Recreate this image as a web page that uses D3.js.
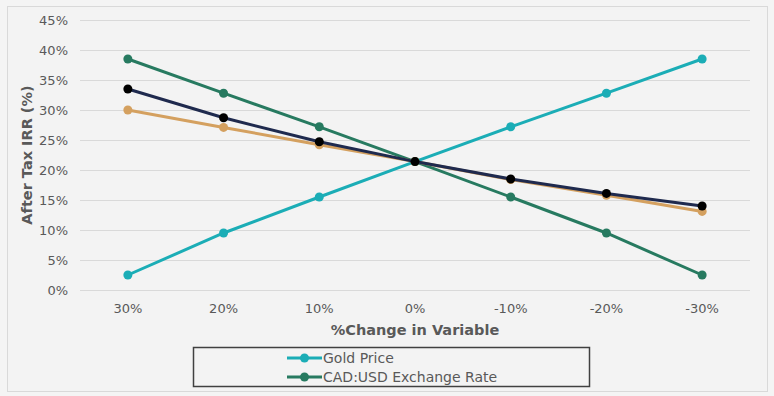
<!DOCTYPE html>
<html><head><meta charset="utf-8">
<script src="https://cdn.jsdelivr.net/npm/d3@7"></script>
<style>html,body{margin:0;padding:0;background:#f4f4f4;}svg{display:block;}</style>
</head><body><svg id="c" width="774" height="396"></svg>
<script>
const categories = ["30%","20%","10%","0%","-10%","-20%","-30%"];
const goldPrice = [2.5, 9.5, 15.5, 21.4, 27.2, 32.8, 38.5];
const cadUsd = [38.5, 32.8, 27.2, 21.4, 15.5, 9.5, 2.5];
const seriesTan = [30.0, 27.1, 24.2, 21.4, 18.4, 15.8, 13.1];
const seriesNavy = [33.5, 28.7, 24.7, 21.4, 18.5, 16.1, 14.0];
const yTicks = [0,5,10,15,20,25,30,35,40,45];
const legendNames = ["Gold Price","CAD:USD Exchange Rate"];

const font = "'Century Gothic','URW Gothic','DejaVu Sans',sans-serif";
const svg = d3.select("#c");
svg.append("rect").attr("x",7.5).attr("y",6.5).attr("width",760).attr("height",385)
  .attr("fill","#f3f3f3").attr("stroke","#d9d9d9").attr("stroke-width",1);

const x = d3.scaleBand().domain(categories).range([80,750]);
const y = d3.scaleLinear().domain([0,45]).range([290,20]);

const grid = svg.append("g");
grid.selectAll("line").data(yTicks).join("line")
  .attr("x1",80).attr("x2",750).attr("y1",d=>y(d)+0.5).attr("y2",d=>y(d)+0.5)
  .attr("stroke","#d9d9d9").attr("stroke-width",1);

const yAxis = svg.append("g").attr("transform","translate(80,0)")
  .call(d3.axisLeft(y).tickValues(yTicks).tickFormat(d=>d+"%").tickSize(0).tickPadding(12));
yAxis.select(".domain").remove();
yAxis.selectAll("text").attr("fill","#595959").style("font-family",font).style("font-size","13px");

const xAxis = svg.append("g").attr("transform","translate(0,290)")
  .call(d3.axisBottom(x).tickSize(0).tickPadding(14));
xAxis.select(".domain").remove();
xAxis.selectAll("text").attr("fill","#595959").style("font-family",font).style("font-size","13px");

svg.append("text").attr("x",415).attr("y",335).attr("text-anchor","middle")
  .attr("fill","#595959").style("font-family",font).style("font-size","14.5px").style("font-weight","bold")
  .text("%Change in Variable");
svg.append("text").attr("transform","translate(32,155) rotate(-90)").attr("text-anchor","middle")
  .attr("fill","#595959").style("font-family",font).style("font-size","14.5px").style("font-weight","bold")
  .text("After Tax IRR (%)");

const series = [
  {vals: goldPrice, color:"#1badb6", marker:"#1badb6"},
  {vals: cadUsd, color:"#277a60", marker:"#277a60"},
  {vals: seriesTan, color:"#d4a05f", marker:"#d4a05f"},
  {vals: seriesNavy, color:"#1f2a4e", marker:"#000000"}
];
const cx = d => x(d) + x.bandwidth()/2;
const line = d3.line().x((d,i)=>cx(categories[i])).y(d=>y(d));
series.forEach(s=>{
  svg.append("path").datum(s.vals).attr("d",line).attr("fill","none")
    .attr("stroke",s.color).attr("stroke-width",3);
  svg.append("g").selectAll("circle").data(s.vals).join("circle")
    .attr("cx",(d,i)=>cx(categories[i])).attr("cy",d=>y(d)).attr("r",4.5).attr("fill",s.marker);
});

// legend
svg.append("rect").attr("x",193.5).attr("y",347.5).attr("width",396).attr("height",39)
  .attr("fill","none").attr("stroke","#404040").attr("stroke-width",1.5);
const lg = svg.append("g");
legendNames.forEach((n,i)=>{
  const yy = 358 + i*19;
  const col = series[i].color;
  lg.append("line").attr("x1",287).attr("x2",322).attr("y1",yy).attr("y2",yy).attr("stroke",col).attr("stroke-width",3);
  lg.append("circle").attr("cx",304.5).attr("cy",yy).attr("r",4.5).attr("fill",col);
  lg.append("text").attr("x",323).attr("y",yy+5).attr("fill","#595959")
    .style("font-family",font).style("font-size","14px").text(n);
});
</script></body></html>
